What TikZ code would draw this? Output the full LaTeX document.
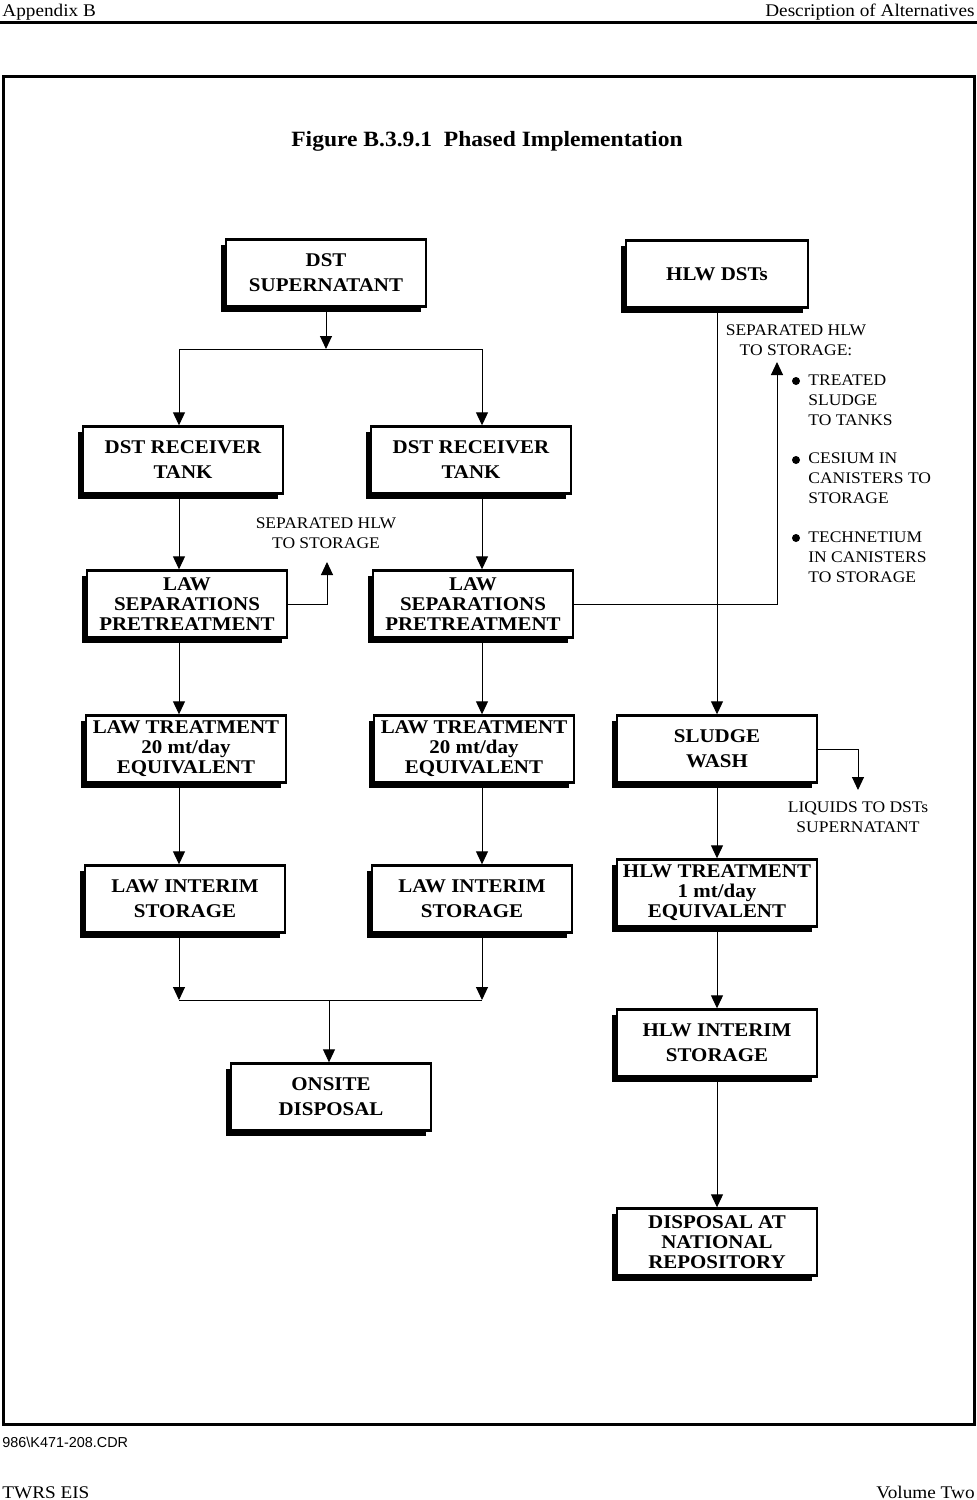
\documentclass[tikz,border=0pt]{standalone}
\usepackage{fontspec}
\setmainfont{Liberation Serif}[FakeStretch=1.08]
\setsansfont{Liberation Sans}
\usepackage{tikz}
\usetikzlibrary{arrows.meta,shapes,positioning,shadows}
\tikzstyle{flow} = [line width=0.5pt,-{Triangle[width=6pt,length=6.5pt]}]
\tikzstyle{wastebox} = [rectangle, draw, line width=1.2pt, fill=white, minimum width=100pt, minimum height=33.5pt, inner sep=0pt, align=center, font=\fontsize{9.7}{12.5}\selectfont\bfseries, drop shadow={shadow xshift=-2.5pt, shadow yshift=-2.5pt, fill=black, opacity=1}]
\tikzstyle{threeline} = [font=\fontsize{9.7}{10}\selectfont\bfseries]
\tikzstyle{note} = [align=center, inner sep=0pt, font=\fontsize{8.1}{10}\selectfont]
\tikzstyle{pagetext} = [inner sep=0pt, font=\fontsize{8.9}{11}\selectfont]
\tikzstyle{dot} = [circle, fill=black, inner sep=0pt, minimum size=4pt]

\begin{document}
\begin{tikzpicture}[x=0.5pt, y=-0.5pt]
\useasboundingbox (0,0) rectangle (977,1500);
% Page header, footer and frame
\node (apx) [pagetext, anchor=base west] at (2,16) {Appendix B};
\node (desc) [pagetext, anchor=base east] at (975,16) {Description of Alternatives};
\draw[line width=1.5pt] (0,22) -- (977,22);
\draw[line width=1.5pt] (3,76) rectangle (974,1424);
\node (file) [inner sep=0pt, anchor=base west, font=\sffamily\fontsize{7.2}{8}\selectfont] at (2,1447) {986\textbackslash K471-208.CDR};
\node (twrs) [pagetext, anchor=base west] at (2,1498) {TWRS EIS};
\node (vol) [pagetext, anchor=base east] at (975,1498) {Volume Two};
\node (title) [inner sep=0pt, anchor=base, font=\fontsize{10.9}{12}\selectfont\bfseries] at (487,146) {Figure B.3.9.1\ \ Phased Implementation};

% LAW line
\node (sup) [wastebox] at (326,273) {DST\\SUPERNATANT};
\node (recl) [wastebox] at (183,460) {DST RECEIVER\\TANK};
\node (recr) [wastebox] at (471,460) {DST RECEIVER\\TANK};
\node (sepl) [wastebox, threeline] at (187,604) {LAW\\SEPARATIONS\\PRETREATMENT};
\node (sepr) [wastebox, threeline] at (473,604) {LAW\\SEPARATIONS\\PRETREATMENT};
\node (trtl) [wastebox, threeline] at (186,749) {LAW TREATMENT\\20 mt/day\\EQUIVALENT};
\node (trtr) [wastebox, threeline] at (474,749) {LAW TREATMENT\\20 mt/day\\EQUIVALENT};
\node (stol) [wastebox] at (185,899) {LAW INTERIM\\STORAGE};
\node (stor) [wastebox] at (472,899) {LAW INTERIM\\STORAGE};
\node (onsite) [wastebox] at (331,1097) {ONSITE\\DISPOSAL};

% HLW line
\node (hlw) [wastebox, minimum width=91pt] at (717,274) {HLW DSTs};
\node (wash) [wastebox] at (717,749) {SLUDGE\\WASH};
\node (hlwt) [wastebox, threeline] at (717,893) {HLW TREATMENT\\1 mt/day\\EQUIVALENT};
\node (hlwi) [wastebox] at (717,1043) {HLW INTERIM\\STORAGE};
\node (repo) [wastebox, threeline] at (717,1242) {DISPOSAL AT\\NATIONAL\\REPOSITORY};

% Side labels
\node (seplabel) [note] at (326,533) {SEPARATED HLW\\TO STORAGE};
\node (hlwlabel) [note] at (796,340) {SEPARATED HLW\\TO STORAGE:};
\node (dot1) [dot] at (796,381) {};
\node (dot2) [dot] at (796,460) {};
\node (dot3) [dot] at (796,538) {};
\node (sludge) [note, align=left, anchor=west] at (808,400) {TREATED\\SLUDGE\\TO TANKS};
\node (cesium) [note, align=left, anchor=west] at (808,478) {CESIUM IN\\CANISTERS TO\\STORAGE};
\node (tech) [note, align=left, anchor=west] at (808,557) {TECHNETIUM\\IN CANISTERS\\TO STORAGE};
\node (liqlabel) [note] at (858,817) {LIQUIDS TO DSTs\\SUPERNATANT};

% Connectors
\coordinate (split) at (326,349);
\coordinate (splitl) at (179,349);
\coordinate (splitr) at (482,349);
\coordinate (joinl) at (179,1000);
\coordinate (joinr) at (482,1000);
\coordinate (join) at (329,1000);
\coordinate (hlwl) at (327,562);
\coordinate (hlwr) at (777,362);
\coordinate (liq) at (858,790);

\draw[flow] (sup) -- (split);
\draw[line width=0.5pt] (splitl) -- (splitr);
\draw[flow] (splitl) -- (splitl |- recl.north);
\draw[flow] (splitr) -- (splitr |- recr.north);
\draw[flow] (recl.south -| splitl) -- (sepl.north -| splitl);
\draw[flow] (recr.south -| splitr) -- (sepr.north -| splitr);
\draw[flow] (sepl.south -| splitl) -- (trtl.north -| splitl);
\draw[flow] (sepr.south -| splitr) -- (trtr.north -| splitr);
\draw[flow] (trtl.south -| splitl) -- (stol.north -| splitl);
\draw[flow] (trtr.south -| splitr) -- (stor.north -| splitr);
\draw[flow] (stol.south -| splitl) -- (joinl);
\draw[flow] (stor.south -| splitr) -- (joinr);
\draw[line width=0.5pt] (joinl) -- (joinr);
\draw[flow] (join) -- (join |- onsite.north);
\draw[flow] (sepl.east) -| (hlwl);
\draw[flow] (sepr.east) -| (hlwr);

\draw[flow] (hlw) -- (wash);
\draw[flow] (wash.east) -| (liq);
\draw[flow] (wash) -- (hlwt);
\draw[flow] (hlwt) -- (hlwi);
\draw[flow] (hlwi) -- (repo);
\end{tikzpicture}
\end{document}
